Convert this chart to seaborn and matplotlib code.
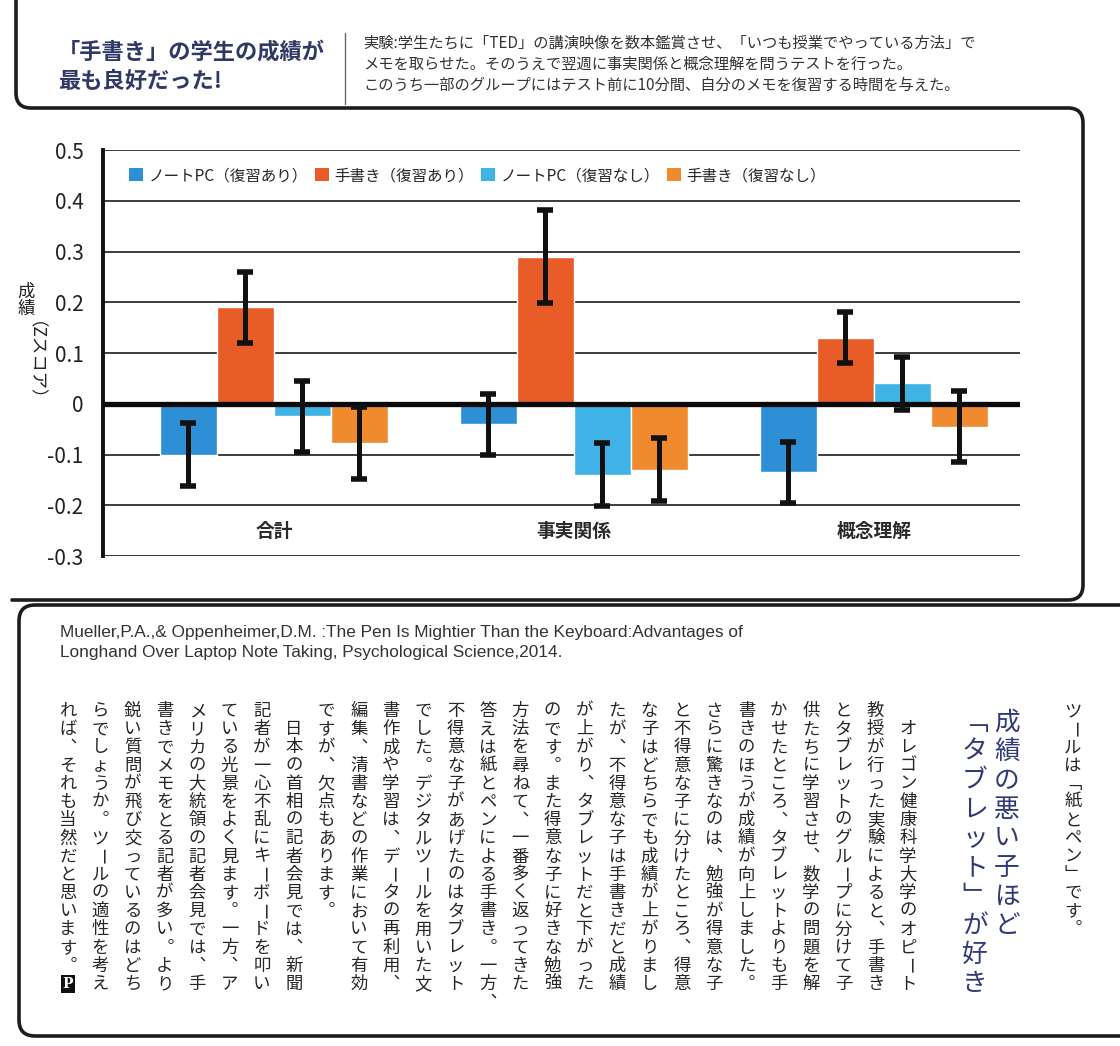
import numpy as np
import pandas as pd
import matplotlib
matplotlib.use("Agg")
import matplotlib.pyplot as plt
import seaborn as sns
from matplotlib.path import Path
from matplotlib.patches import PathPatch, Patch

# ---- chart data (Z scores) ----
categories = ["合計", "事実関係", "概念理解"]
groups = ["ノートPC（復習あり）", "手書き（復習あり）", "ノートPC（復習なし）", "手書き（復習なし）"]
colors = ["#2d8fd5", "#e85c28", "#3fb3e6", "#f08a2e"]

laptop_review = [-0.10, -0.04, -0.135]
longhand_review = [0.19, 0.29, 0.13]
laptop_noreview = [-0.025, -0.14, 0.04]
longhand_noreview = [-0.078, -0.13, -0.045]

laptop_review_err = [0.062, 0.06, 0.06]
longhand_review_err = [0.07, 0.092, 0.05]
laptop_noreview_err = [0.07, 0.062, 0.052]
longhand_noreview_err = [0.071, 0.062, 0.07]

yticks = [-0.3, -0.2, -0.1, 0.0, 0.1, 0.2, 0.3, 0.4, 0.5]
ytick_labels = ["-0.3", "-0.2", "-0.1", "0", "0.1", "0.2", "0.3", "0.4", "0.5"]

# ---- page texts ----
title_lines = ["「手書き」の学生の成績が", "最も良好だった!"]
note_lines = [
    "実験:学生たちに「TED」の講演映像を数本鑑賞させ、「いつも授業でやっている方法」で",
    "メモを取らせた。そのうえで翌週に事実関係と概念理解を問うテストを行った。",
    "このうち一部のグループにはテスト前に10分間、自分のメモを復習する時間を与えた。",
]
citation_lines = [
    "Mueller,P.A.,& Oppenheimer,D.M. :The Pen Is Mightier Than the Keyboard:Advantages of",
    "Longhand Over Laptop Note Taking, Psychological Science,2014.",
]
prev_column = "ツールは「紙とペン」です。"
headline_columns = ["成績の悪い子ほど", "「タブレット」が好き"]
body_columns = [
    "　オレゴン健康科学大学のオピート",
    "教授が行った実験によると、手書き",
    "とタブレットのグループに分けて子",
    "供たちに学習させ、数学の問題を解",
    "かせたところ、タブレットよりも手",
    "書きのほうが成績が向上しました。",
    "さらに驚きなのは、勉強が得意な子",
    "と不得意な子に分けたところ、得意",
    "な子はどちらでも成績が上がりまし",
    "たが、不得意な子は手書きだと成績",
    "が上がり、タブレットだと下がった",
    "のです。また得意な子に好きな勉強",
    "方法を尋ねて、一番多く返ってきた",
    "答えは紙とペンによる手書き。一方、",
    "不得意な子があげたのはタブレット",
    "でした。デジタルツールを用いた文",
    "書作成や学習は、データの再利用、",
    "編集、清書などの作業において有効",
    "ですが、欠点もあります。",
    "　日本の首相の記者会見では、新聞",
    "記者が一心不乱にキーボードを叩い",
    "ている光景をよく見ます。一方、ア",
    "メリカの大統領の記者会見では、手",
    "書きでメモをとる記者が多い。より",
    "鋭い質問が飛び交っているのはどち",
    "らでしょうか。ツールの適性を考え",
    "れば、それも当然だと思います。",
]

sns.set_style("white")
plt.rcParams["font.family"] = ["Noto Sans CJK JP", "DejaVu Sans"]

fig = plt.figure(figsize=(11.2, 10.46), dpi=100)
fig.patch.set_facecolor("white")

# page layer in pixel coordinates
page = fig.add_axes([0, 0, 1, 1])
page.set_xlim(0, 1120)
page.set_ylim(1046, 0)
page.axis("off")

M, L, C = Path.MOVETO, Path.LINETO, Path.CURVE3
frame_top = Path(
    [(16, 0), (16, 93), (16, 108), (31, 108), (1068, 108), (1083, 108), (1083, 123),
     (1083, 585), (1083, 600), (1068, 600), (12, 600)],
    [M, L, C, C, L, C, C, L, C, C, L])
frame_low = Path(
    [(1120, 605), (35, 605), (19, 605), (19, 621), (19, 1020), (19, 1036), (35, 1036), (1120, 1036)],
    [M, L, C, C, L, C, C, L])
for p in (frame_top, frame_low):
    page.add_patch(PathPatch(p, fill=False, lw=2.6, ec="#1c1c1c", capstyle="round"))
page.plot([345, 345], [33, 104], color="#666666", lw=1)

navy = "#2f3966"
for i, line in enumerate(title_lines):
    page.text(58, 52 + i * 29, line, fontsize=16, fontweight="bold", color=navy, va="center")
for i, line in enumerate(note_lines):
    page.text(363, 43 + i * 21, line, fontsize=11, color="#333333", va="center")
for i, line in enumerate(citation_lines):
    page.text(60, 632 + i * 21, line, fontsize=12.4, color="#333333", va="center",
              family="Liberation Sans")

# vertical (tategaki) text
VERT = {"、": "\ufe11", "。": "\ufe12", "「": "\ufe41", "」": "\ufe42"}


def vertical_column(x, y0, text, pitch, **kw):
    for i, ch in enumerate(text):
        rot = -90 if ch == "ー" else 0
        page.text(x, y0 + i * pitch, VERT.get(ch, ch), ha="center", va="center",
                  rotation=rot, **kw)


vertical_column(1073, 711, prev_column, 18.2, fontsize=12.5, color="#262626")
for i, col in enumerate(headline_columns):
    vertical_column(1007 - i * 32, 723, col, 29, fontsize=18.5, color="#2e3b78")
col_step = (908 - 68) / (len(body_columns) - 1)
for i, col in enumerate(body_columns):
    vertical_column(908 - i * col_step, 711, col, 18.2, fontsize=12.5, color="#262626")
page.text(68, 711 + 15 * 18.2, "P", ha="center", va="center", fontsize=10, fontweight="bold",
          color="white", family="DejaVu Serif",
          bbox=dict(boxstyle="square,pad=0.15", fc="#111111", ec="none"))

# y axis title: 成績 upright, (Zスコア) turned
page.text(26, 292, "成", ha="center", va="center", fontsize=12.5, color="#222222")
page.text(26, 309, "績", ha="center", va="center", fontsize=12.5, color="#222222")
page.text(26, 370, "（Zスコア）", ha="center", va="center", fontsize=12.5, rotation=-90,
          color="#222222")

# ---- chart ----
ax = fig.add_axes([103 / 1120, 1 - 556 / 1046, (1020 - 103) / 1120, (556 - 150) / 1046])
ax.set_facecolor("none")

values = [laptop_review, longhand_review, laptop_noreview, longhand_noreview]
errors = [laptop_review_err, longhand_review_err, laptop_noreview_err, longhand_noreview_err]
df = pd.DataFrame({
    "category": np.tile(categories, len(groups)),
    "group": np.repeat(groups, len(categories)),
    "value": np.concatenate(values),
})

sns.barplot(data=df, x="category", y="value", hue="group", order=categories,
            hue_order=groups, palette=dict(zip(groups, colors)), width=0.76,
            errorbar=None, saturation=1, ax=ax, zorder=2)

# error bars at the centre of each seaborn bar
for container, err in zip(ax.containers, errors):
    xs = [b.get_x() + b.get_width() / 2 for b in container]
    ys = [b.get_height() for b in container]
    ax.errorbar(xs, ys, yerr=err, fmt="none", ecolor="#111111", elinewidth=3.6,
                capsize=6, capthick=4, zorder=4)

ax.set_xlim(-0.57, 2.487)
ax.set_ylim(-0.3, 0.5)
ax.set_yticks(yticks)
ax.set_yticklabels(ytick_labels, fontsize=15, color="#222222")
ax.tick_params(axis="y", length=0, pad=14)
ax.set_xticks([])
ax.set_xlabel("")
ax.set_ylabel("")
ax.grid(axis="y", color="#3c3c3c", lw=1.4, zorder=1)
ax.grid(axis="x", visible=False)
ax.set_axisbelow(True)
ax.axhline(0, color="#0a0a0a", lw=3.8, zorder=3)
for s in ("top", "right", "bottom"):
    ax.spines[s].set_visible(False)
ax.spines["left"].set_color("#111111")
ax.spines["left"].set_linewidth(2.8)

for i, cat in enumerate(categories):
    ax.text(i, -0.252, cat, ha="center", va="center", fontsize=13.5, fontweight="bold",
            color="#2a2a2a")

handles = [Patch(facecolor=c, edgecolor="none") for c in colors]
ax.legend(handles, groups, ncol=4, loc="center left", bbox_to_anchor=(0.022, 0.937),
          frameon=False, fontsize=11.2, handlelength=0.9, handleheight=0.9,
          handletextpad=0.35, columnspacing=0.45, borderaxespad=0)

fig.savefig("out.png", dpi=100, facecolor="white")
plt.close(fig)
